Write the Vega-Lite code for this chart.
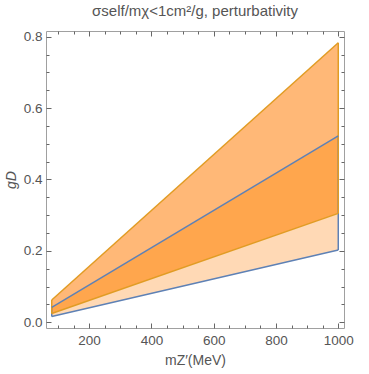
{
  "$schema": "https://vega.github.io/schema/vega-lite/v6.json",
  "width": 298,
  "height": 297,
  "autosize": {"type": "none"},
  "padding": {"left": 46, "top": 31, "right": 25, "bottom": 46},
  "title": {"text": "σself/mχ<1cm²/g, perturbativity", "fontSize": 15, "fontWeight": "normal", "color": "#555555", "font": "Liberation Sans", "offset": 11},
  "config": {
    "view": {"stroke": "#a0a0a0", "strokeWidth": 1},
    "axis": {"domain": false, "grid": false, "labelFont": "Liberation Sans", "labelFontSize": 13.5, "labelColor": "#555555", "titleFont": "Liberation Sans", "titleFontWeight": "normal", "titleColor": "#555555", "titleFontSize": 14}
  },
  "datasets": {
    "bands": [
      {"m": 80, "band": "top", "lo": 0.0418, "hi": 0.0626},
      {"m": 1000, "band": "top", "lo": 0.522, "hi": 0.783},
      {"m": 80, "band": "mid", "lo": 0.0244, "hi": 0.0418},
      {"m": 1000, "band": "mid", "lo": 0.305, "hi": 0.522},
      {"m": 80, "band": "bottom", "lo": 0.0162, "hi": 0.0244},
      {"m": 1000, "band": "bottom", "lo": 0.2025, "hi": 0.305}
    ],
    "lines": [
      {"m": 80, "g": 0.0626, "bound": "orange upper", "family": "orange"},
      {"m": 1000, "g": 0.783, "bound": "orange upper", "family": "orange"},
      {"m": 80, "g": 0.0244, "bound": "orange lower", "family": "orange"},
      {"m": 1000, "g": 0.305, "bound": "orange lower", "family": "orange"},
      {"m": 80, "g": 0.0418, "bound": "blue upper", "family": "blue"},
      {"m": 1000, "g": 0.522, "bound": "blue upper", "family": "blue"},
      {"m": 80, "g": 0.0162, "bound": "blue lower", "family": "blue"},
      {"m": 1000, "g": 0.2025, "bound": "blue lower", "family": "blue"}
    ],
    "edges": [
      {"m": 80, "lo": 0.0162, "hi": 0.0418, "family": "blue"},
      {"m": 1000, "lo": 0.2025, "hi": 0.522, "family": "blue"},
      {"m": 80, "lo": 0.0244, "hi": 0.0626, "family": "orange"},
      {"m": 1000, "lo": 0.305, "hi": 0.783, "family": "orange"}
    ]
  },
  "layer": [
    {
      "data": {"name": "bands"},
      "mark": {"type": "area", "opacity": 1},
      "encoding": {
        "x": {"field": "m", "type": "quantitative", "scale": {"domain": [61.6, 1018.4], "nice": false, "zero": false},
              "axis": {"orient": "bottom", "values": [200, 400, 600, 800, 1000], "format": "d", "ticks": false, "labelPadding": 5, "title": "mZ′(MeV)", "titlePadding": 7}},
        "y": {"field": "hi", "type": "quantitative", "scale": {"domain": [-0.016, 0.816], "nice": false, "zero": false},
              "axis": {"orient": "left", "values": [0, 0.2, 0.4, 0.6, 0.8], "format": ".1f", "ticks": false, "labelPadding": 4, "title": "gD", "titleFontStyle": "italic", "titlePadding": 5}},
        "y2": {"field": "lo"},
        "color": {"field": "band", "type": "nominal", "scale": {"domain": ["top", "mid", "bottom"], "range": ["#FFB877", "#FFA64D", "#FFD9B5"]}, "legend": null},
        "detail": {"field": "band"}
      }
    },
    {
      "data": {"name": "edges"},
      "transform": [{"filter": "datum.family === 'blue'"}],
      "mark": {"type": "rule", "color": "#5E81B5", "strokeWidth": 1.5},
      "encoding": {
        "x": {"field": "m", "type": "quantitative", "scale": {"domain": [61.6, 1018.4], "nice": false, "zero": false},
              "axis": {"orient": "top", "values": [100, 150, 250, 300, 350, 450, 500, 550, 650, 700, 750, 850, 900, 950], "labels": false, "ticks": true, "tickSize": 3, "offset": -3, "tickColor": "#666666", "tickWidth": 1, "title": null}},
        "y": {"field": "lo", "type": "quantitative", "scale": {"domain": [-0.016, 0.816], "nice": false, "zero": false},
              "axis": {"orient": "right", "values": [0.05, 0.1, 0.15, 0.25, 0.3, 0.35, 0.45, 0.5, 0.55, 0.65, 0.7, 0.75], "labels": false, "ticks": true, "tickSize": 3, "offset": -3, "tickColor": "#666666", "tickWidth": 1, "title": null}},
        "y2": {"field": "hi"}
      }
    },
    {
      "data": {"name": "edges"},
      "transform": [{"filter": "datum.family === 'orange'"}],
      "mark": {"type": "rule", "color": "#E19C24", "strokeWidth": 1.5},
      "encoding": {
        "x": {"field": "m", "type": "quantitative", "scale": {"domain": [61.6, 1018.4], "nice": false, "zero": false},
              "axis": {"orient": "top", "values": [200, 400, 600, 800, 1000], "labels": false, "ticks": true, "tickSize": 5, "offset": -5, "tickColor": "#666666", "tickWidth": 1, "title": null}},
        "y": {"field": "lo", "type": "quantitative", "scale": {"domain": [-0.016, 0.816], "nice": false, "zero": false},
              "axis": {"orient": "right", "values": [0, 0.2, 0.4, 0.6, 0.8], "labels": false, "ticks": true, "tickSize": 5, "offset": -5, "tickColor": "#666666", "tickWidth": 1, "title": null}},
        "y2": {"field": "hi"}
      }
    },
    {
      "data": {"name": "lines"},
      "transform": [{"filter": "datum.family === 'orange'"}],
      "mark": {"type": "line", "color": "#E19C24", "strokeWidth": 1.5},
      "encoding": {
        "x": {"field": "m", "type": "quantitative", "scale": {"domain": [61.6, 1018.4], "nice": false, "zero": false},
              "axis": {"orient": "bottom", "values": [200, 400, 600, 800, 1000], "labels": false, "ticks": true, "tickSize": 5, "offset": -5, "tickColor": "#666666", "tickWidth": 1, "title": null}},
        "y": {"field": "g", "type": "quantitative", "scale": {"domain": [-0.016, 0.816], "nice": false, "zero": false},
              "axis": {"orient": "left", "values": [0, 0.2, 0.4, 0.6, 0.8], "labels": false, "ticks": true, "tickSize": 5, "offset": -5, "tickColor": "#666666", "tickWidth": 1, "title": null}},
        "detail": {"field": "bound"}
      }
    },
    {
      "data": {"name": "lines"},
      "transform": [{"filter": "datum.family === 'blue'"}],
      "mark": {"type": "line", "color": "#5E81B5", "strokeWidth": 1.5},
      "encoding": {
        "x": {"field": "m", "type": "quantitative", "scale": {"domain": [61.6, 1018.4], "nice": false, "zero": false},
              "axis": {"orient": "bottom", "values": [100, 150, 250, 300, 350, 450, 500, 550, 650, 700, 750, 850, 900, 950], "labels": false, "ticks": true, "tickSize": 3, "offset": -3, "tickColor": "#666666", "tickWidth": 1, "title": null}},
        "y": {"field": "g", "type": "quantitative", "scale": {"domain": [-0.016, 0.816], "nice": false, "zero": false},
              "axis": {"orient": "left", "values": [0.05, 0.1, 0.15, 0.25, 0.3, 0.35, 0.45, 0.5, 0.55, 0.65, 0.7, 0.75], "labels": false, "ticks": true, "tickSize": 3, "offset": -3, "tickColor": "#666666", "tickWidth": 1, "title": null}},
        "detail": {"field": "bound"}
      }
    }
  ],
  "resolve": {"axis": {"x": "independent", "y": "independent"}}
}
